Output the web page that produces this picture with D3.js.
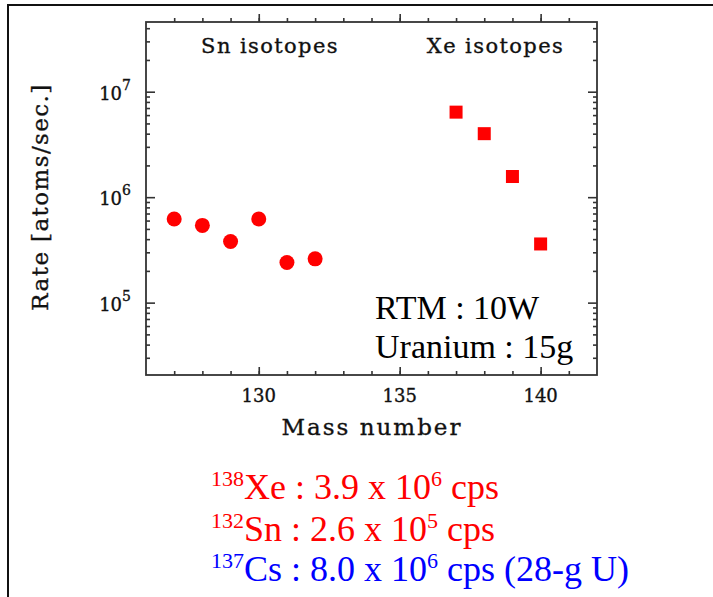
<!DOCTYPE html>
<html lang="en">
<head>
<meta charset="UTF-8">
<title>Sn and Xe isotope rates</title>
<script src="https://d3js.org/d3.v7.min.js"></script>
<style>
    body { margin: 0; background: #fff; }
    svg { display: block; }
    .axis path, .axis line { stroke: #333; stroke-width: 1.6px; }
    .axis text { display: none; }
    .lbl { font-family: "DejaVu Serif", serif; fill: #111; stroke: #111; stroke-width: 0.35px; }
    .note { font-family: "Liberation Serif", "Times New Roman", serif; }
</style>
</head>
<body>
<svg id="chart"></svg>
<script>
// data
const snMass = [127, 128, 129, 130, 131, 132];
const snRate = [6.2e5, 5.4e5, 3.8e5, 6.2e5, 2.4e5, 2.6e5];
const xeMass = [137, 138, 139, 140];
const xeRate = [6.4e6, 4.0e6, 1.57e6, 3.6e5];
const xTicks = [130, 135, 140];
const yTicks = [1e5, 1e6, 1e7];
const yExponents = ["5", "6", "7"];
const groupLabels = ["Sn isotopes", "Xe isotopes"];
const groupLabelMass = [130.4, 138.4];
const setupLines = ["RTM : 10W", "Uranium : 15g"];
// result lines: superscript mass, element, mantissa, exponent, tail, colour
const resultSup = ["138", "132", "137"];
const resultEl = ["Xe", "Sn", "Cs"];
const resultVal = ["3.9", "2.6", "8.0"];
const resultExp = ["6", "5", "6"];
const resultTail = [" cps", " cps", " cps (28-g U)"];
const resultColor = ["#ff0000", "#ff0000", "#0000ff"];

const W = 713, H = 597;
const plot = { left: 146, right: 597, top: 22, bottom: 375 };

const svg = d3.select("#chart").attr("width", W).attr("height", H);

// slide border (only top and left edges show)
svg.append("path")
   .attr("d", `M8,${H} L8,5 L${W},5`)
   .attr("fill", "none")
   .attr("stroke", "#111")
   .attr("stroke-width", 2);

const x = d3.scaleLinear().domain([126, 142]).range([plot.left, plot.right]);
const y = d3.scaleLog().domain([2.06e4, 4.58e7]).range([plot.bottom, plot.top]);

const xMinor = d3.range(127, 142);
const yMinor = [];
[1e4, 1e5, 1e6, 1e7].forEach(d => {
    for (let k = 2; k <= 9; k++) {
        const v = d * k;
        if (v > y.domain()[0] && v < y.domain()[1]) yMinor.push(v);
    }
});

// inward ticks on all four sides
function addAxis(axisFn, scale, values, size, transform) {
    svg.append("g")
       .attr("class", "axis")
       .attr("transform", transform)
       .call(axisFn(scale).tickValues(values).tickSize(size).tickFormat(""))
       .select(".domain").remove();
}
addAxis(d3.axisBottom, x, xMinor, -4, `translate(0,${plot.bottom})`);
addAxis(d3.axisBottom, x, xTicks, -8, `translate(0,${plot.bottom})`);
addAxis(d3.axisTop, x, xMinor, 4, `translate(0,${plot.top})`);
addAxis(d3.axisTop, x, xTicks, 8, `translate(0,${plot.top})`);
addAxis(d3.axisLeft, y, yMinor, -4, `translate(${plot.left},0)`);
addAxis(d3.axisLeft, y, yTicks, -9, `translate(${plot.left},0)`);
addAxis(d3.axisRight, y, yMinor, -4, `translate(${plot.right},0)`);
addAxis(d3.axisRight, y, yTicks, -9, `translate(${plot.right},0)`);

// frame
svg.append("rect")
   .attr("x", plot.left).attr("y", plot.top)
   .attr("width", plot.right - plot.left)
   .attr("height", plot.bottom - plot.top)
   .attr("fill", "none")
   .attr("stroke", "#333")
   .attr("stroke-width", 1.8);

// x tick labels
svg.selectAll(".xtl")
   .data(xTicks)
   .enter().append("text")
   .attr("class", "lbl")
   .attr("x", d => x(d))
   .attr("y", 402)
   .attr("text-anchor", "middle")
   .style("font-size", "18px")
   .text(d => d);

// y tick labels 10^n
const ytl = svg.selectAll(".ytl")
   .data(yTicks)
   .enter().append("text")
   .attr("class", "lbl")
   .attr("x", 131)
   .attr("y", d => y(d) + 8)
   .attr("text-anchor", "end")
   .style("font-size", "18px");
ytl.append("tspan").text("10");
ytl.append("tspan")
   .attr("dy", -10)
   .style("font-size", "14px")
   .text((d, i) => yExponents[i]);

// axis titles
svg.append("text")
   .attr("class", "lbl")
   .attr("x", 372).attr("y", 435)
   .attr("text-anchor", "middle")
   .style("font-size", "23px")
   .style("letter-spacing", "2px")
   .text("Mass number");

svg.append("text")
   .attr("class", "lbl")
   .attr("transform", "translate(48,197) rotate(-90)")
   .attr("text-anchor", "middle")
   .style("font-size", "23px")
   .style("letter-spacing", "1.4px")
   .text("Rate [atoms/sec.]");

// group labels
svg.selectAll(".grp")
   .data(groupLabels)
   .enter().append("text")
   .attr("class", "lbl")
   .attr("x", (d, i) => x(groupLabelMass[i]))
   .attr("y", 53)
   .attr("text-anchor", "middle")
   .style("font-size", "21px")
   .style("letter-spacing", "1.4px")
   .text(d => d);

// Sn points (circles)
svg.selectAll(".sn")
   .data(snMass)
   .enter().append("circle")
   .attr("cx", d => x(d))
   .attr("cy", (d, i) => y(snRate[i]))
   .attr("r", 7.5)
   .attr("fill", "#ff0000");

// Xe points (squares)
const sq = 13;
svg.selectAll(".xe")
   .data(xeMass)
   .enter().append("rect")
   .attr("x", d => x(d) - sq / 2)
   .attr("y", (d, i) => y(xeRate[i]) - sq / 2)
   .attr("width", sq)
   .attr("height", sq)
   .attr("fill", "#ff0000");

// setup text inside the plot
svg.selectAll(".setup")
   .data(setupLines)
   .enter().append("text")
   .attr("class", "note")
   .attr("x", 375)
   .attr("y", (d, i) => 319 + i * 39)
   .style("font-size", "34px")
   .attr("fill", "#000")
   .text(d => d);

// result lines below the chart
const res = svg.selectAll(".res")
   .data(resultEl)
   .enter().append("text")
   .attr("class", "note")
   .attr("x", 211)
   .attr("y", (d, i) => [499, 541, 581][i])
   .attr("fill", (d, i) => resultColor[i])
   .style("font-size", "36px");
res.append("tspan")
   .attr("dy", -13)
   .style("font-size", "22px")
   .text((d, i) => resultSup[i]);
res.append("tspan")
   .attr("dy", 13)
   .text((d, i) => `${d} : ${resultVal[i]} x 10`);
res.append("tspan")
   .attr("dy", -13)
   .style("font-size", "22px")
   .text((d, i) => resultExp[i]);
res.append("tspan")
   .attr("dy", 13)
   .text((d, i) => resultTail[i]);
</script>
</body>
</html>
